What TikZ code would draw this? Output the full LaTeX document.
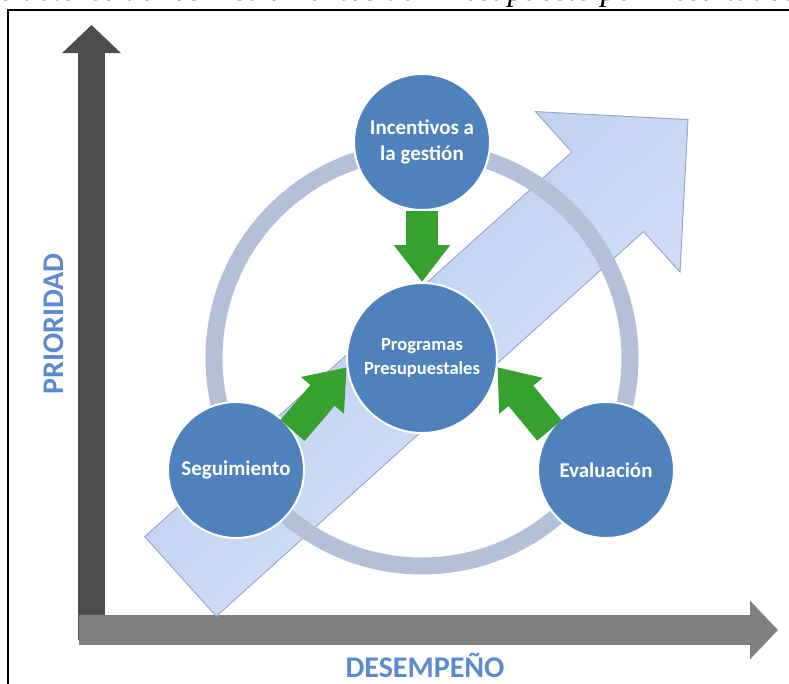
\documentclass[tikz,border=0pt]{standalone}
\usepackage{fontspec}
\setmainfont{Liberation Serif}
\newfontfamily\calibri{Carlito}
\usepackage{tikz}
\usetikzlibrary{arrows.meta, positioning}
\definecolor{stageblue}{HTML}{4F81BD}
\definecolor{ringgray}{HTML}{B4BFD8}
\definecolor{feedgreen}{HTML}{36A12E}
\definecolor{axisdark}{HTML}{4D4D4D}
\definecolor{axislight}{HTML}{808080}
\definecolor{labelblue}{HTML}{5A8AD0}
\definecolor{trendlight}{HTML}{DCE6F9}
\definecolor{trenddark}{HTML}{B4C9F0}
\definecolor{trendedge}{HTML}{9CA8C6}
\tikzset{
  stage/.style={circle, draw=white, line width=2pt, fill=stageblue, text=white, align=center,
    minimum size=136pt, inner sep=0pt, font=\calibri\bfseries\fontsize{21}{26}\selectfont},
  core/.style={stage, minimum size=150pt, font=\calibri\bfseries\fontsize{18.5}{24}\selectfont},
  feed/.style={draw=feedgreen, line width=32pt, -{Triangle[length=37pt, width=54pt]}},
  axis/.style={line width=27pt, -{Triangle[length=28pt, width=57pt]}},
  axislabel/.style={text=labelblue, inner sep=0pt, font=\calibri\bfseries\fontsize{30}{34}\selectfont},
  ring/.style={draw=ringgray, line width=17pt},
  trend/.style={draw=trendedge, line width=1pt, left color=trenddark, right color=trendlight, shading angle=42},
  caption/.style={font=\itshape\fontsize{32.5}{36}\selectfont, inner sep=0pt},
  frame/.style={draw=black, line width=2pt}
}
\begin{document}
\begin{tikzpicture}[x=1pt, y=-1pt]
  \useasboundingbox (0,0) rectangle (789,683);
  % Caption, cut by the page
  \begin{scope}
    \clip (0,0) rectangle (789,683);
    \node[caption, anchor=base east] (cap) at (797,0) {de actores de los instrumentos del Presupuesto por Resultados};
  \end{scope}
  \draw[frame] (8,690) |- (795,10);

  % Axes
  \coordinate (yfoot) at (91.5,640);
  \coordinate (ytip) at (91.5,25);
  \coordinate (origin) at (79,630);
  \coordinate (xtip) at (778,630);
  \draw[axis, draw=axisdark] (yfoot) -- (ytip);
  \draw[axis, draw=axislight, line width=30pt] (origin) -- (xtip);
  \node[axislabel, rotate=90, anchor=base] (prio) at (63,324) {PRIORIDAD};
  \node[axislabel, anchor=base] (desem) at (425,677) {DESEMPEÑO};

  % Trend arrow
  \shadedraw[trend] (144.7,536.7) -- (571.9,152.0) -- (535.4,111.6) -- (688,119.6)
    -- (680.0,272.0) -- (643.5,231.6) -- (216.3,616.3) -- cycle;

  % Cycle
  \coordinate (hub) at (422,358);
  \draw[ring] (hub) circle[radius=208];

  % Nodes
  \node[core] (prog) at (hub) {Programas\\Presupuestales};
  \node[stage] (incen) at (422,142) {Incentivos a\\la gestión};
  \node[stage] (segui) at (236,470) {Seguimiento};
  \node[stage] (evalu) at (606,470) {Evaluación};

  % Arrows
  \draw[feed] (incen) -- (prog);
  \draw[feed] (segui.35) -- (prog.187);
  \draw[feed] (evalu.145) -- (prog.-7);
\end{tikzpicture}
\end{document}
